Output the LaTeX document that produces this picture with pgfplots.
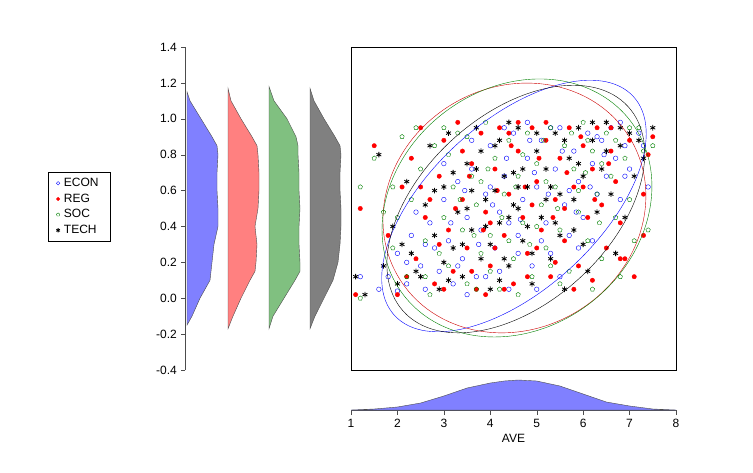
\documentclass[border=0pt]{standalone}
\usepackage{pgfplots}
\pgfplotsset{compat=1.18}
\usepackage{fontspec}
\setmainfont{Liberation Sans}
\definecolor{cb}{RGB}{128,128,255}
\definecolor{cr}{RGB}{255,128,128}
\definecolor{cg}{RGB}{128,192,128}
\definecolor{ck}{RGB}{128,128,128}
\definecolor{dg}{RGB}{0,128,0}
\begin{document}
\fontsize{12}{14}\selectfont
\begin{tikzpicture}
\path[use as bounding box] (0pt,0pt) rectangle (753pt,-472pt);
% left axis with densities
\begin{axis}[at={(185pt,-370pt)},anchor=south west,scale only axis,width=166pt,height=323pt,
  xmin=0,xmax=166,ymin=-0.4,ymax=1.4,axis y line*=left,hide x axis,
  ytick={-0.4,-0.2,...,1.41},yticklabel style={/pgf/number format/.cd,fixed,fixed zerofill,precision=1},
  /pgf/number format/assume math mode=true,tick align=outside,major tick length=4pt,
  ytick pos=left,axis line style={black!70},tick style={black!70},tick label style={font=\fontsize{12}{14}\selectfont}]
\addplot[fill=cb,draw=black!70,thin] coordinates {(2,-0.15)(7,-0.1)(15,0)(20,0.05)(25,0.1)(27,0.2)(29,0.3)(33,0.4)(33,0.5)(32,0.6)(32,0.7)(33,0.8)(32,0.85)(27,0.9)(16,1.0)(5,1.1)(2,1.15)} -- cycle;
\addplot[fill=cr,draw=black!70,thin] coordinates {(43,-0.17)(48,-0.1)(56,0)(65,0.1)(70,0.15)(71,0.2)(72,0.3)(70,0.4)(73,0.5)(74,0.6)(74,0.7)(73,0.8)(72,0.85)(67,0.9)(56,1.0)(46,1.1)(43,1.17)} -- cycle;
\addplot[fill=cg,draw=black!70,thin] coordinates {(84,-0.17)(88,-0.1)(99,0)(110,0.1)(115,0.15)(115,0.2)(114,0.3)(114,0.4)(115,0.5)(114,0.6)(114,0.7)(113,0.8)(113,0.85)(111,0.9)(102,1.0)(89,1.1)(84,1.18)} -- cycle;
\addplot[fill=ck,draw=black!70,thin] coordinates {(125,-0.17)(130,-0.1)(139,0)(148,0.1)(153,0.2)(155,0.3)(156,0.4)(156,0.5)(155,0.6)(155,0.7)(156,0.8)(155,0.85)(150,0.9)(139,1.0)(129,1.1)(125,1.17)} -- cycle;
\end{axis}
% main scatter
\begin{axis}[at={(351pt,-370pt)},anchor=south west,scale only axis,width=325pt,height=323pt,
  xmin=1,xmax=8,ymin=-0.4,ymax=1.4,xtick=\empty,ytick=\empty,
  legend style={at={(-0.932,0.613)},anchor=north west,draw=black,font=\fontsize{12}{14}\selectfont,row sep=3.5pt,inner xsep=8pt,inner ysep=5pt,nodes={inner ysep=1pt,inner xsep=4pt}},
  legend image post style={scale=0.75},
  legend cell align=left]
\addplot[only marks,mark=o,blue,mark size=2.3pt,thin] coordinates {(1.6,0.05)(1.8,0.12)(2.0,0.25)(2.2,0.08)(2.3,0.35)(2.5,0.18)(2.6,0.05)(2.7,0.42)(2.8,0.28)(2.9,0.15)(3.0,0.55)(3.1,0.32)(3.2,0.08)(3.3,0.65)(3.4,0.22)(3.5,0.45)(3.6,0.72)(3.7,0.12)(3.8,0.38)(3.9,0.58)(4.0,0.85)(4.1,0.28)(4.2,0.48)(4.3,0.68)(4.4,0.05)(4.5,0.92)(4.6,0.35)(4.7,0.55)(4.8,0.78)(4.9,0.18)(5.0,0.62)(5.1,0.88)(5.2,0.42)(5.3,0.25)(5.4,0.72)(5.5,0.95)(5.6,0.52)(5.7,0.35)(5.8,0.82)(5.9,0.65)(6.0,0.45)(6.1,0.92)(6.2,0.75)(6.3,0.58)(6.4,0.88)(6.5,0.68)(6.6,0.95)(6.7,0.78)(6.8,0.55)(6.9,0.85)(7.0,0.72)(7.2,0.92)(7.4,0.62)(3.5,0.02)(4.2,0.15)(5.0,0.05)(2.4,0.48)(3.0,0.75)(5.5,0.12)(6.2,0.32)(4.0,0.62)(4.8,0.98)(2.0,0.04)(1.2,0.12)(6.8,0.98)(5.9,0.28)(3.6,0.88)(4.4,0.42)
(3.15,0.42)(3.45,0.6)(3.75,0.3)(4.05,0.52)(4.35,0.78)(4.65,0.44)(4.95,0.7)(5.25,0.58)(5.55,0.82)(5.85,0.48)(6.15,0.62)(6.45,0.8)(3.3,0.18)(3.9,0.12)(4.6,0.25)(5.1,0.32)(5.7,0.6)(6.3,0.9)(2.6,0.3)(4.3,0.95)(5.3,0.95)(6.9,0.68)(7.3,0.85)(2.2,0.2)(4.85,0.88)};
\addlegendentry{ECON}
\addplot[only marks,mark=*,red,mark size=2.2pt] coordinates {(1.2,0.5)(1.5,0.85)(1.8,0.35)(2.0,0.02)(2.1,0.62)(2.3,0.78)(2.4,0.22)(2.5,0.95)(2.6,0.45)(2.8,0.08)(2.9,0.68)(3.0,0.88)(3.1,0.38)(3.2,0.15)(3.3,0.98)(3.4,0.55)(3.5,0.28)(3.6,0.75)(3.7,0.05)(3.8,0.92)(3.9,0.48)(4.0,0.18)(4.1,0.72)(4.2,0.95)(4.3,0.35)(4.4,0.58)(4.5,0.08)(4.6,0.82)(4.7,0.45)(4.8,0.25)(4.9,0.95)(5.0,0.65)(5.1,0.38)(5.2,0.88)(5.3,0.12)(5.4,0.55)(5.5,0.78)(5.6,0.32)(5.7,0.95)(5.8,0.62)(5.9,0.18)(6.0,0.85)(6.1,0.45)(6.2,0.72)(6.3,0.95)(6.4,0.52)(6.5,0.28)(6.6,0.82)(6.7,0.65)(6.8,0.42)(6.9,0.22)(7.0,0.88)(7.1,0.12)(7.3,0.58)(7.4,0.8)(7.5,0.9)(1.1,0.02)(2.7,0.55)(3.9,0.02)(5.8,0.05)(6.2,0.1)(4.4,0.92)(3.4,0.82)(2.2,0.12)(5.0,0.28)(4.0,0.42)(6.0,0.62)(6.8,0.22)(7.3,0.35)
(3.25,0.5)(3.55,0.68)(3.85,0.38)(4.15,0.6)(4.45,0.85)(4.75,0.62)(5.05,0.78)(5.35,0.45)(5.65,0.7)(5.95,0.9)(6.25,0.55)(6.55,0.75)(3.6,0.15)(4.1,0.28)(4.8,0.12)(5.4,0.2)(2.9,0.3)(2.5,0.62)(4.6,0.98)(5.2,0.98)(6.6,0.95)(3.0,0.05)(4.3,0.05)(5.6,0.5)(4.9,0.52)};
\addlegendentry{REG}
\addplot[only marks,mark=pentagon,dg,mark size=2.3pt,thin] coordinates {(1.2,0.0)(1.2,0.62)(1.5,0.78)(1.7,0.48)(1.9,0.28)(2.1,0.9)(2.2,0.12)(2.3,0.55)(2.5,0.72)(2.6,0.32)(2.7,0.02)(2.8,0.85)(3.0,0.45)(3.1,0.18)(3.2,0.62)(3.3,0.92)(3.4,0.38)(3.5,0.08)(3.6,0.68)(3.7,0.52)(3.8,0.25)(3.9,0.98)(4.0,0.35)(4.1,0.78)(4.2,0.05)(4.3,0.58)(4.4,0.88)(4.5,0.22)(4.6,0.68)(4.7,0.42)(4.8,0.92)(4.9,0.12)(5.0,0.75)(5.1,0.52)(5.2,0.28)(5.3,0.95)(5.4,0.62)(5.5,0.38)(5.6,0.85)(5.7,0.15)(5.8,0.72)(5.9,0.48)(6.0,0.98)(6.1,0.32)(6.2,0.82)(6.3,0.58)(6.4,0.22)(6.5,0.92)(6.6,0.68)(6.7,0.45)(6.8,0.12)(6.9,0.78)(7.0,0.55)(7.1,0.32)(7.2,0.95)(7.3,0.82)(7.5,0.85)(7.4,0.38)(6.2,0.05)(5.5,0.08)(3.0,0.95)(2.4,0.95)(4.6,0.02)(1.9,0.62)(5.2,0.65)(3.8,0.65)(2.9,0.25)(6.4,0.75)
(3.35,0.55)(3.65,0.35)(3.95,0.72)(4.25,0.45)(4.55,0.62)(4.85,0.3)(5.15,0.88)(5.45,0.5)(5.75,0.92)(6.05,0.7)(6.35,0.42)(3.1,0.8)(2.6,0.12)(4.0,0.15)(4.7,0.8)(5.0,0.4)(5.9,0.6)(6.7,0.88)(2.0,0.45)(3.5,0.9)(4.4,0.32)(5.3,0.18)(6.1,0.88)(7.0,0.95)(3.7,0.05)};
\addlegendentry{SOC}
\addplot[only marks,mark=asterisk,black,mark size=2.8pt,thick] coordinates {(1.1,0.12)(1.3,0.02)(1.6,0.8)(1.7,0.18)(1.9,0.4)(2.0,0.08)(2.2,0.65)(2.3,0.25)(2.5,0.12)(2.6,0.52)(2.7,0.85)(2.8,0.35)(2.9,0.05)(3.0,0.62)(3.1,0.92)(3.2,0.28)(3.3,0.48)(3.4,0.12)(3.5,0.75)(3.6,0.38)(3.7,0.95)(3.8,0.22)(3.9,0.55)(4.0,0.05)(4.1,0.85)(4.2,0.42)(4.3,0.68)(4.4,0.18)(4.5,0.52)(4.6,0.95)(4.7,0.32)(4.8,0.62)(4.9,0.08)(5.0,0.82)(5.1,0.45)(5.2,0.72)(5.3,0.22)(5.4,0.92)(5.5,0.58)(5.6,0.05)(5.7,0.78)(5.8,0.38)(5.9,0.95)(6.0,0.68)(6.1,0.15)(6.2,0.88)(6.3,0.48)(6.4,0.72)(6.5,0.98)(6.6,0.58)(6.7,0.25)(6.8,0.85)(6.9,0.45)(7.0,0.92)(7.1,0.68)(7.2,0.88)(7.3,0.78)(7.5,0.95)(4.4,0.45)(4.6,0.5)(4.0,0.3)(4.8,0.4)(3.6,0.6)(5.2,0.55)(2.4,0.15)(3.0,0.2)(4.2,0.88)(5.5,0.35)(6.0,0.3)(4.5,0.7)
(3.2,0.7)(3.5,0.5)(3.8,0.82)(4.1,0.6)(4.4,0.98)(4.7,0.72)(5.0,0.92)(5.3,0.62)(5.6,0.88)(5.9,0.75)(6.2,0.98)(6.5,0.82)(3.4,0.3)(3.9,0.4)(4.3,0.22)(4.9,0.25)(5.4,0.42)(6.8,0.95)(2.8,0.6)(2.1,0.3)(3.1,0.1)(4.2,0.1)(5.8,0.55)(4.6,0.62)(3.7,0.72)};
\addlegendentry{TECH}
\coordinate (eb) at (axis cs:4.51,0.514);
\coordinate (er) at (axis cs:4.52,0.503);
\coordinate (eg) at (axis cs:4.575,0.503);
\coordinate (ek) at (axis cs:4.55,0.497);
\end{axis}
\begin{scope}[shift={(eb)},rotate=42.5]\draw[blue,thin] (0pt,0pt) ellipse (162pt and 84pt);\end{scope}
\begin{scope}[shift={(er)},rotate=31]\draw[red!80!black,thin] (0pt,0pt) ellipse (135pt and 121pt);\end{scope}
\begin{scope}[shift={(eg)},rotate=37.5]\draw[dg,thin] (0pt,0pt) ellipse (143pt and 120pt);\end{scope}
\begin{scope}[shift={(ek)},rotate=42.4]\draw[black,thin] (0pt,0pt) ellipse (152pt and 94pt);\end{scope}
% bottom density
\begin{axis}[at={(351pt,-410pt)},anchor=south west,scale only axis,width=325pt,height=32pt,
  xmin=1,xmax=8,ymin=0,ymax=32,axis x line*=bottom,hide y axis,xtick={1,...,8},
  tick align=outside,major tick length=5pt,xtick pos=bottom,
  /pgf/number format/assume math mode=true,xlabel={AVE},xlabel style={yshift=2pt},
  axis line style={black!70},tick style={black!70},tick label style={font=\fontsize{12}{14}\selectfont},
  label style={font=\fontsize{12}{14}\selectfont}]
\addplot[fill=cb,draw=black!70,thin] coordinates {(1,0)(1.5,1)(2,3)(2.5,7)(3,14)(3.5,22)(4,27)(4.3,29)(4.6,30)(5,29)(5.5,24)(6,16)(6.5,8)(7,4)(7.5,1)(8,0)} -- cycle;
\end{axis}
\end{tikzpicture}
\end{document}
